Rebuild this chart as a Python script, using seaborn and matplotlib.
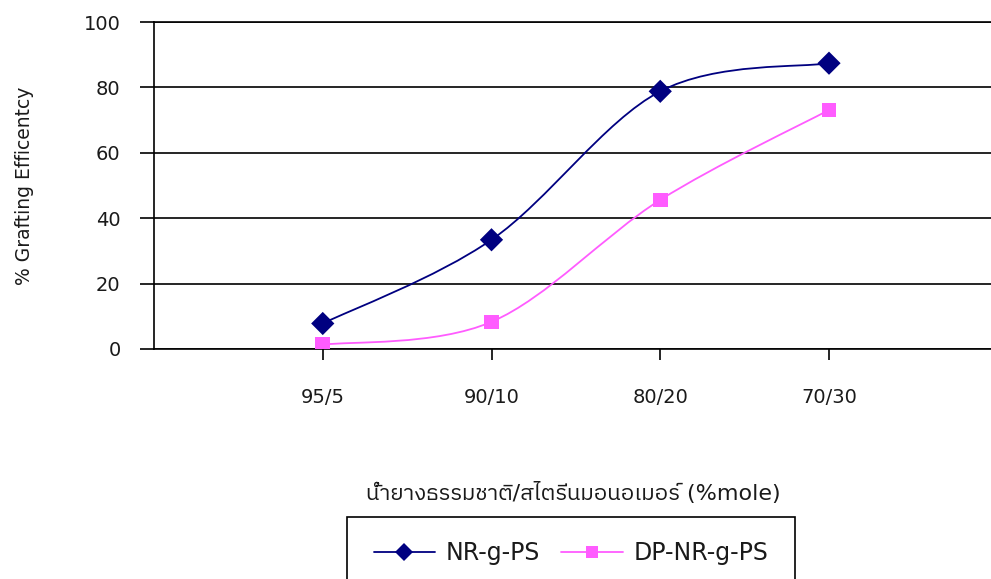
import numpy as np
import pandas as pd
import matplotlib
matplotlib.use("Agg")
import matplotlib.pyplot as plt
import seaborn as sns
from matplotlib import font_manager
from matplotlib.ft2font import FT2Font
from matplotlib.path import Path
from matplotlib.patches import PathPatch, Rectangle
from matplotlib.lines import Line2D

# data
ratios = ["95/5", "90/10", "80/20", "70/30"]
nr_g_ps = [7.8, 33.4, 78.8, 87.4]
dp_nr_g_ps = [1.3, 8.3, 45.6, 73.1]
series_names = ["NR-g-PS", "DP-NR-g-PS"]
series_colors = ["#000080", "#FF5CFF"]
series_markers = ["D", "s"]


# find an installed font that has Thai glyphs (for the x label)
def findThaiFont():
    names = []
    for f in font_manager.fontManager.ttflist:
        try:
            if ord("น") in FT2Font(f.fname).get_charmap():
                names.append(f.name)
        except Exception:
            pass
    names.sort(key=lambda n: 0 if "Thai" in n else 1)
    return names[0] if names else None


sns.set_style("white")
thai = findThaiFont()
fams = ["DejaVu Sans"] + ([thai] if thai else [])
plt.rcParams["font.family"] = fams

df = pd.DataFrame({
    "ratio": ratios * 2,
    "value": nr_g_ps + dp_nr_g_ps,
    "series": [series_names[0]] * 4 + [series_names[1]] * 4,
})

W, H = 991, 579
fig = plt.figure(figsize=(W / 100, H / 100), dpi=100)
ax = fig.add_axes([154 / W, 1 - 349 / H, 1 - 154 / W, (349 - 22) / H])


# smooth curve through the points (Excel-style smoothed line)
def smoothPath(xs, ys):
    p = np.column_stack([xs, ys]).astype(float)
    n = len(p)
    verts = [p[0]]
    codes = [Path.MOVETO]
    for i in range(n - 1):
        p0 = p[i - 1] if i > 0 else p[i]
        p1, p2 = p[i], p[i + 1]
        p3 = p[i + 2] if i + 2 < n else p[i + 1]
        verts += [p1 + (p2 - p0) / 6, p2 - (p3 - p1) / 6, p2]
        codes += [Path.CURVE4] * 3
    return Path(verts, codes)


for name, col in zip(series_names, series_colors):
    sub = df[df["series"] == name]
    patch = PathPatch(smoothPath(np.arange(len(sub)), sub["value"].values),
                      facecolor="none", edgecolor=col, lw=1.3, zorder=3)
    ax.add_patch(patch)

sns.scatterplot(data=df, x="ratio", y="value", hue="series", style="series",
                palette=dict(zip(series_names, series_colors)),
                markers=dict(zip(series_names, series_markers)),
                size="series", sizes={series_names[0]: 140, series_names[1]: 110},
                linewidth=0, legend=False, ax=ax, zorder=4)

ax.set_xlim(-1, 3.96)
ax.set_ylim(0, 100)
ax.set_yticks([0, 20, 40, 60, 80, 100])
ax.yaxis.grid(True, color="black", lw=1.2)
ax.set_axisbelow(True)
for side in ["left", "bottom", "top"]:
    ax.spines[side].set_visible(True)
    ax.spines[side].set_color("black")
    ax.spines[side].set_linewidth(1.2)
ax.spines["right"].set_visible(False)

ax.tick_params(axis="y", direction="out", length=10, width=1.2, pad=14,
               labelsize=14, left=True, colors="black")
ax.tick_params(axis="x", direction="out", length=8, width=1.2, pad=20,
               labelsize=14, bottom=True, colors="black")
for lab in ax.get_xticklabels() + ax.get_yticklabels():
    lab.set_color("#1a1a1a")

ax.set_ylabel("% Grafting Efficentcy", fontsize=13.5, labelpad=36, color="#1a1a1a")
ax.set_xlabel("")

# x axis title
fig.text(573 / W, 1 - 493 / H, "น้ำยางธรรมชาติ/สไตรีนมอนอเมอร์ (%mole)",
         ha="center", va="center", fontsize=16, color="#1a1a1a", family=fams)

# legend box (runs off the bottom edge like the original)
fig.patches.append(Rectangle((347 / W, -0.05), (795 - 347) / W, 0.05 + 1 - 517 / H,
                             transform=fig.transFigure, facecolor="white",
                             edgecolor="black", lw=1.2, zorder=1))
handles = [Line2D([0], [0], color=c, marker=m, lw=1.3, markersize=9,
                  markeredgewidth=0)
           for c, m in zip(series_colors, series_markers)]
leg = fig.legend(handles, series_names, loc="center", ncol=2,
                 bbox_to_anchor=(571 / W, 1 - 553 / H), fontsize=17,
                 frameon=False, borderpad=0, handlelength=2.6,
                 handletextpad=0.45, columnspacing=0.9)
leg.set_zorder(2)
for t in leg.get_texts():
    t.set_color("#1a1a1a")

plt.savefig("out.png", dpi=100)
